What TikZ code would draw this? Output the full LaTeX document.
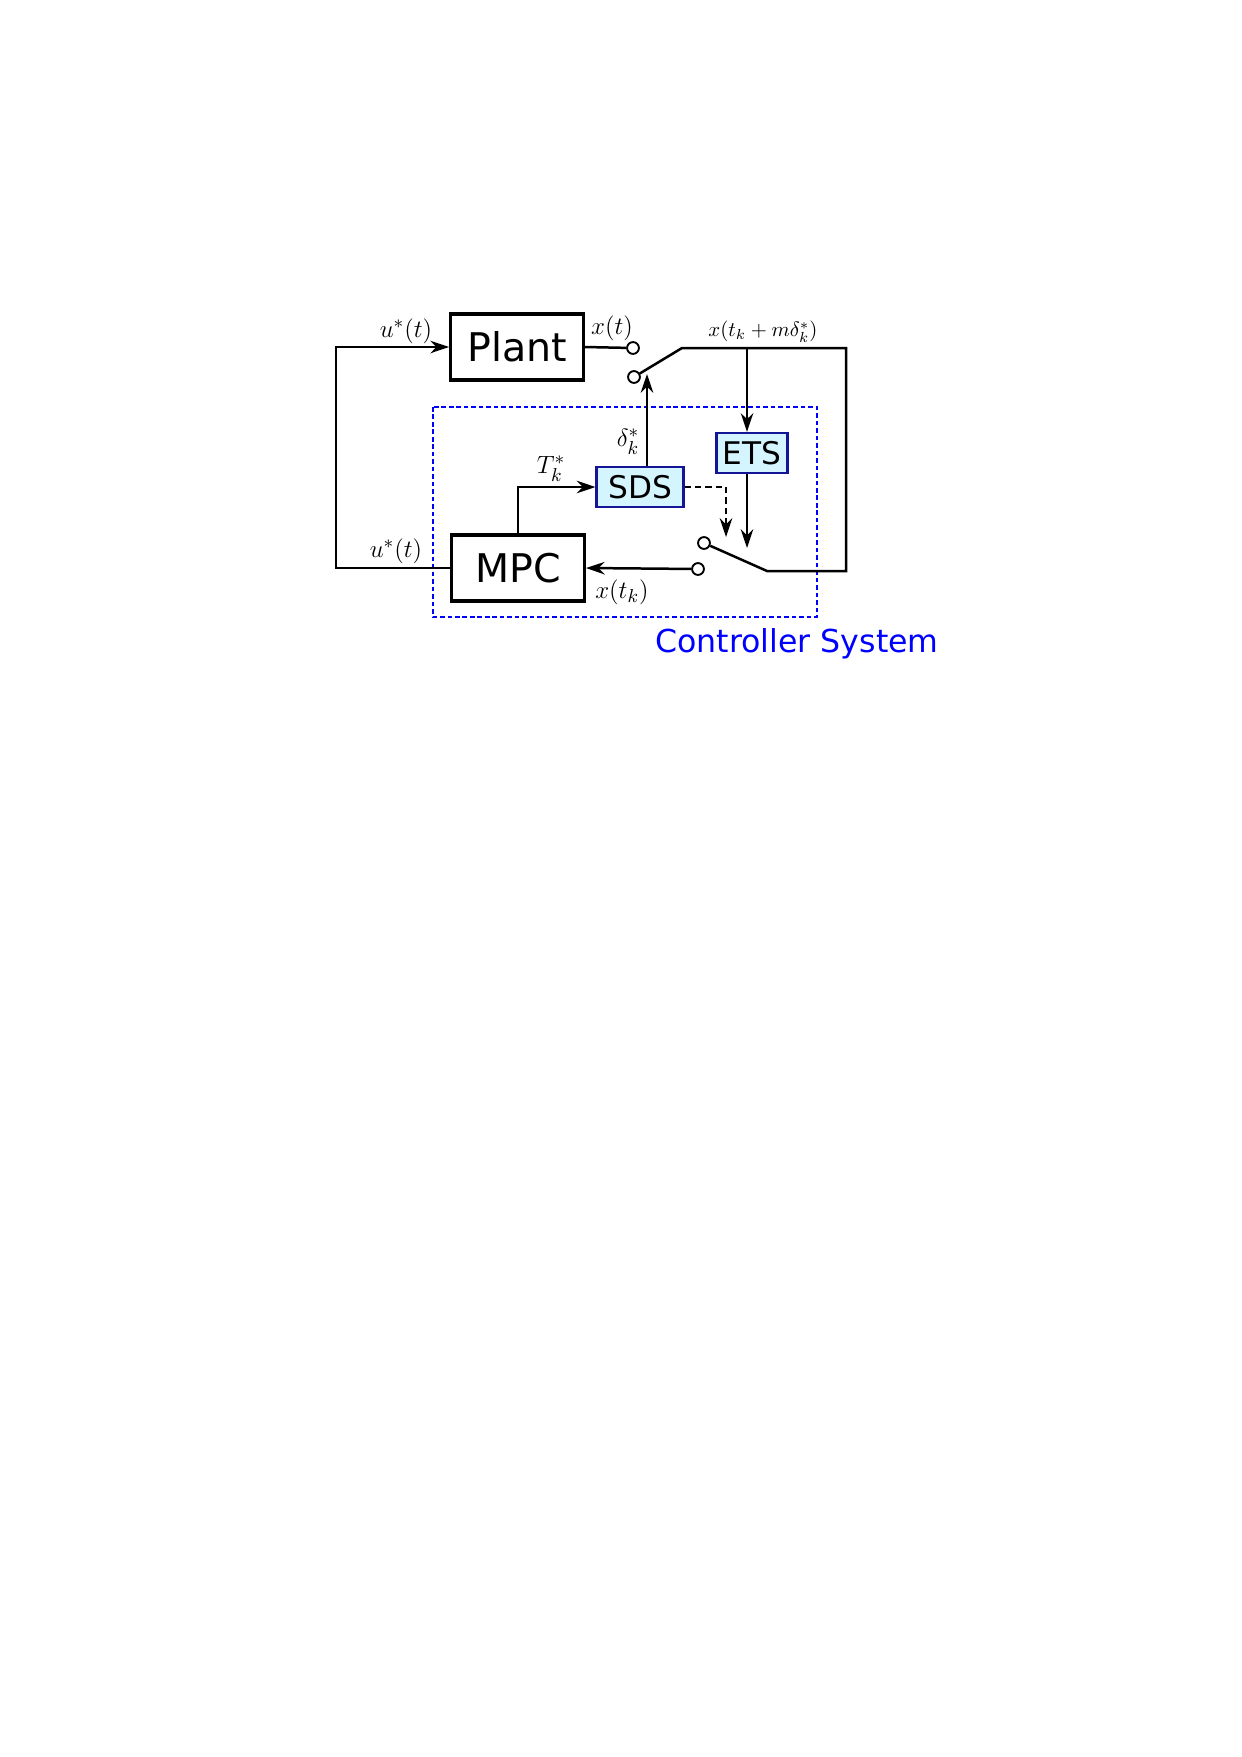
\documentclass[tikz,border=0pt]{standalone}
\usepackage{amsmath}
\usepackage{fontspec}
\setsansfont{DejaVu Sans}
\usepackage{xcolor}
\usepackage{tikz}
\usetikzlibrary{arrows.meta}

\definecolor{boxblue}{RGB}{20,20,150}
\definecolor{boxfill}{RGB}{212,245,253}

\begin{document}
\begin{tikzpicture}[
  x=0.016908cm, y=-0.016908cm,
  block/.style={draw,line width=1.6pt,inner sep=0pt,minimum width=2.24cm,minimum height=1.12cm,font=\fontsize{19}{21}\sffamily},
  subblock/.style={draw=boxblue,fill=boxfill,line width=1pt,inner sep=0pt,minimum height=0.68cm,font=\fontsize{15}{17}\sffamily},
  port/.style={circle,draw,fill=white,inner sep=0pt,minimum size=0.2cm,line width=0.9pt},
  wire/.style={line width=1.2pt},
  sig/.style={line width=1.2pt,-{Stealth[length=9pt,width=6pt]}},
  lbl/.style={font=\fontsize{12.3}{14}\selectfont},
  ctrlbox/.style={draw=blue,line width=1pt,dash pattern=on 2.2pt off 1.4pt}
]
  \useasboundingbox (0,0) rectangle (1242,1757);

  \node[block] (plant) at (517,347) {Plant};
  \node[block] (mpc)   at (518,568) {MPC};
  \node[subblock,minimum width=1.47cm] (sds) at (640,487) {SDS};
  \node[subblock,minimum width=1.2cm]  (ets) at (752,453) {ETS};

  % switch contacts
  \node[port] (xout) at (633,348) {};
  \node[port] (sw1)  at (634,377) {};
  \node[port] (sw2)  at (704,543) {};
  \node[port] (xin)  at (698,569) {};

  \coordinate (hinge1) at (682,348);
  \coordinate (hinge2) at (767,571);
  \coordinate (rc1)    at (846,348);
  \coordinate (rc2)    at (846,571);
  \coordinate (fb)     at (336,460);
  \coordinate (etsin)  at (747,348);
  \coordinate (etsout) at (747,548);
  \coordinate (dtip)   at (647,374);
  \coordinate (dashend) at (726,537);

  \draw[ctrlbox] (433,407) rectangle (817,617);

  \draw[wire] (plant.east) -- (xout);
  \draw[wire] (sw1) -- (hinge1) -- (rc1) -- (rc2) -- (hinge2) -- (sw2);
  \draw[sig] (xin) -- (mpc.east);
  \draw[sig] (mpc.west) -| (fb) |- (plant.west);
  \draw[sig] (mpc.north) |- (sds.west);
  \draw[sig] (sds.north -| dtip) -- (dtip);
  \draw[sig] (etsin) -- (ets.north -| etsin);
  \draw[sig] (ets.south -| etsout) -- (etsout);
  \draw[sig,dash pattern=on 3pt off 2pt] (sds.east) -| (dashend);

  \node[lbl] at (406,331) {$u^*(t)$};
  \node[lbl] at (396,551) {$u^*(t)$};
  \node[lbl] at (612,328) {$x(t)$};
  \node[font=\fontsize{10}{12}\selectfont] at (763,332) {$x(t_k+m\delta_k^*)$};
  \node[lbl] at (551,469) {$T_k^*$};
  \node[lbl] at (628,442) {$\delta_k^*$};
  \node[lbl] at (622,592) {$x(t_k)$};
  \node[font=\fontsize{15.2}{18}\sffamily,text=blue] at (797,644) {Controller System};
\end{tikzpicture}
\end{document}
